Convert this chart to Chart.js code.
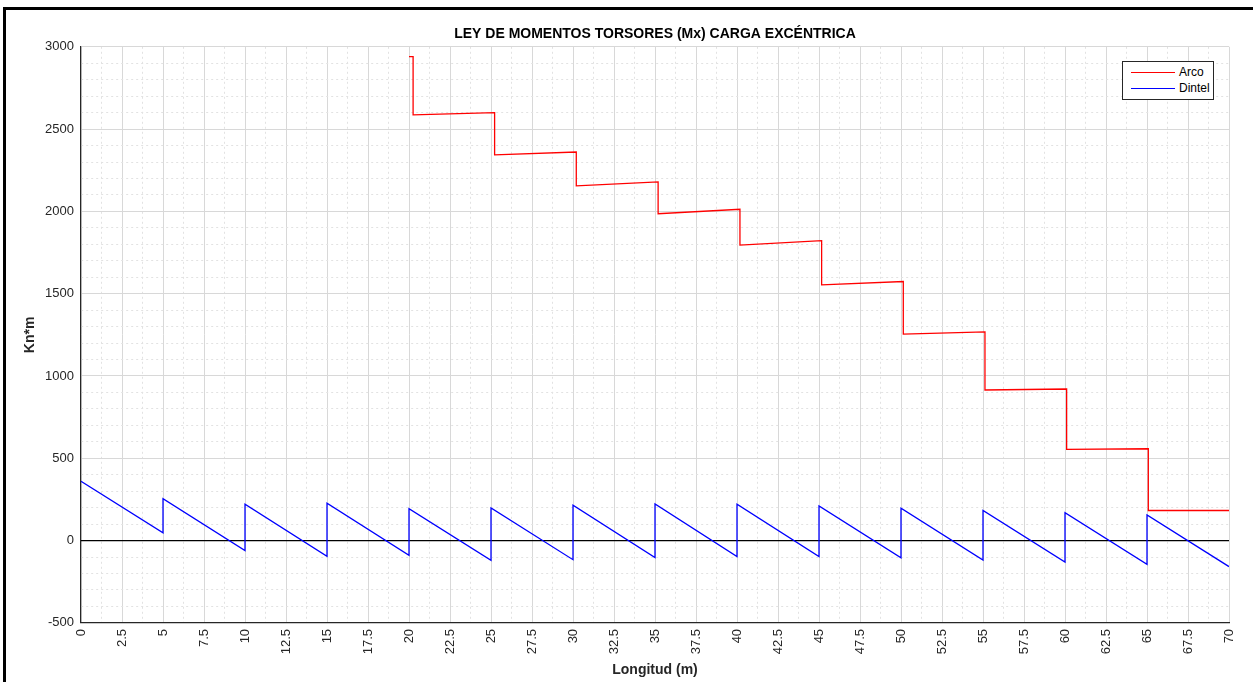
<!DOCTYPE html>
<html>
<head>
<meta charset="utf-8">
<script src="https://cdn.jsdelivr.net/npm/chart.js@4"></script>
<style>
    body { margin: 0; background: #fff; overflow: hidden; }
    #marco { position: absolute; left: 3px; top: 7px; width: 1300px; height: 720px; border: 3px solid #000; box-sizing: border-box; }
    #wrap { position: absolute; left: 0; top: 0; width: 1253px; height: 682px; }
    #leyenda { position: absolute; left: 1122px; top: 61px; width: 92px; height: 39px; border: 1px solid #262626; background: #fff;
        font: 12px "Liberation Sans", Arial, sans-serif; color: #000; box-sizing: border-box; }
    .fila { position: relative; height: 15px; margin-top: 3px; }
    .fila span.linea { position: absolute; left: 8px; top: 7px; width: 44px; height: 1px; }
    .fila span.txt { position: absolute; left: 56px; top: 0; }
</style>
</head>
<body>
<div id="marco"></div>
<div id="wrap"><canvas id="torsores" width="1253" height="682"></canvas></div>
<div id="leyenda">
    <div class="fila"><span class="linea" style="background:#ff0000"></span><span class="txt">Arco</span></div>
    <div class="fila" style="margin-top:1px"><span class="linea" style="background:#0000ff"></span><span class="txt">Dintel</span></div>
</div>
<script>
// Arco: ley escalonada
const arcoX = [20, 20.25, 20.25, 25.22, 25.22, 30.2, 30.2, 35.19, 35.19, 40.18, 40.18, 45.16, 45.16, 50.14, 50.14, 55.12, 55.12, 60.1, 60.1, 65.08, 65.08, 70];
const arcoY = [2940, 2940, 2587, 2600, 2343, 2361, 2155, 2179, 1986, 2013, 1795, 1822, 1554, 1574, 1254, 1268, 915, 921, 554, 558, 183, 183];

// Dintel: diente de sierra
const dintelX = [0, 5, 5, 10, 10, 15, 15, 20, 20, 25, 25, 30, 30, 35, 35, 40, 40, 45, 45, 50, 50, 55, 55, 60, 60, 65, 65, 70];
const dintelY = [361, 47, 254, -61, 221, -95, 227, -89, 194, -120, 199, -116, 215, -103, 223, -97, 221, -97, 211, -105, 197, -118, 183, -130, 169, -144, 156, -158];

// linea de cero
const ceroX = [0, 70];
const ceroY = [0, 0];

const toPts = (xs, ys) => xs.map((x, i) => ({ x: x, y: ys[i] }));

const fuente = "'Liberation Sans', Arial, Helvetica, sans-serif";
const gris = "#262626";

const gridColor = (ctx, major) => {
    if (!ctx.tick) return "rgba(0,0,0,0)";
    return Math.abs(ctx.tick.value % major) < 1e-9 ? "#d8d8d8" : "#e2e2e2";
};
const gridDash = (ctx, major) => {
    if (!ctx.tick) return [];
    return Math.abs(ctx.tick.value % major) < 1e-9 ? [] : [2, 3];
};

new Chart(document.getElementById("torsores").getContext("2d"), {
    type: "line",
    data: {
        datasets: [
            {
                label: "Arco",
                data: toPts(arcoX, arcoY),
                borderColor: "#ff0000",
                borderWidth: 1.3,
                pointRadius: 0,
                tension: 0
            },
            {
                label: "Dintel",
                data: toPts(dintelX, dintelY),
                borderColor: "#0000ff",
                borderWidth: 1.3,
                pointRadius: 0,
                tension: 0
            },
            {
                label: "cero",
                data: toPts(ceroX, ceroY),
                borderColor: "#000",
                borderWidth: 1.2,
                pointRadius: 0
            }
        ]
    },
    options: {
        responsive: false,
        animation: false,
        devicePixelRatio: 1,
        layout: { padding: { left: 22, right: 24, top: 0, bottom: 3 } },
        plugins: {
            legend: { display: false },
            tooltip: { enabled: false },
            title: {
                display: true,
                fullSize: false,
                text: "LEY DE MOMENTOS TORSORES (Mx) CARGA EXCÉNTRICA",
                color: "#000",
                font: { family: fuente, size: 14, weight: "bold" },
                padding: { top: 26, bottom: 4 }
            }
        },
        scales: {
            x: {
                type: "linear",
                min: 0,
                max: 70,
                border: { color: gris, width: 1.2, dash: ctx => gridDash(ctx, 2.5) },
                grid: { color: ctx => gridColor(ctx, 2.5), lineWidth: 1, drawTicks: false },
                ticks: {
                    stepSize: 1.25,
                    autoSkip: false,
                    maxRotation: 90,
                    minRotation: 90,
                    padding: 6,
                    color: gris,
                    font: { family: fuente, size: 13 },
                    callback: v => (Math.abs(v % 2.5) < 1e-9 ? String(v) : "")
                },
                title: {
                    display: true,
                    text: "Longitud (m)",
                    color: gris,
                    font: { family: fuente, size: 14, weight: "bold" },
                    padding: { top: 2, bottom: 0 }
                }
            },
            y: {
                type: "linear",
                min: -500,
                max: 3000,
                afterFit: scale => { scale.width = 59; },
                border: { color: gris, width: 1.2, dash: ctx => gridDash(ctx, 500) },
                grid: { color: ctx => gridColor(ctx, 500), lineWidth: 1, drawTicks: false },
                ticks: {
                    stepSize: 100,
                    autoSkip: false,
                    padding: 7,
                    color: gris,
                    font: { family: fuente, size: 13 },
                    callback: v => (v % 500 === 0 ? String(v) : "")
                },
                title: {
                    display: true,
                    text: "Kn*m",
                    color: gris,
                    font: { family: fuente, size: 14, weight: "bold" },
                    padding: { top: 0, bottom: 4 }
                }
            }
        }
    }
});
</script>
</body>
</html>
